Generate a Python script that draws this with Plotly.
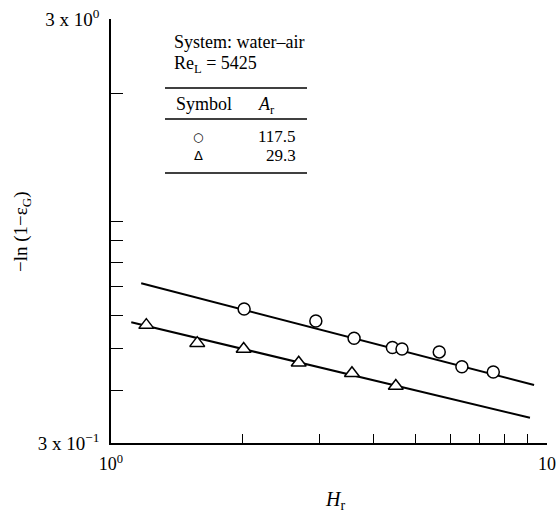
import plotly.graph_objects as go

# Data: A_r = 117.5 (circles)
hr_circle = [2.02, 2.95, 3.61, 4.42, 4.65, 5.66, 6.38, 7.53]
eps_circle = [0.621, 0.582, 0.530, 0.504, 0.500, 0.492, 0.454, 0.441]
# Data: A_r = 29.3 (triangles)
hr_tri = [1.205, 1.577, 2.015, 2.695, 3.57, 4.50]
eps_tri = [0.569, 0.516, 0.500, 0.464, 0.438, 0.409]
# Fitted lines (endpoints)
fit_circle_x = [1.173, 9.34]
fit_circle_y = [0.714, 0.411]
fit_tri_x = [1.113, 9.14]
fit_tri_y = [0.578, 0.344]

x_tickvals = [1, 2, 3, 4, 5, 6, 7, 8, 9, 10]
x_ticktext = ["10<sup>0</sup>", "", "", "", "", "", "", "", "", "10"]
y_tickvals = [0.3, 0.4, 0.5, 0.6, 0.7, 0.8, 0.9, 1.0, 2.0, 3.0]
y_ticktext = ["3 x 10<sup>\u22121</sup>", "", "", "", "", "", "", "", "", "3 x 10<sup>0</sup>"]

FONT = "Liberation Serif"
W, H = 557, 517
L, R, T, B = 111, 10, 19, 74
PW, PH = W - L - R, H - T - B


def px(x):
    return (x - L) / PW


def py(y):
    return (H - B - y) / PH


fig = go.Figure()
fig.add_trace(go.Scatter(x=fit_circle_x, y=fit_circle_y, mode="lines",
                         line=dict(color="black", width=2), showlegend=False))
fig.add_trace(go.Scatter(x=fit_tri_x, y=fit_tri_y, mode="lines",
                         line=dict(color="black", width=2), showlegend=False))
fig.add_trace(go.Scatter(x=hr_circle, y=eps_circle, mode="markers",
                         marker=dict(symbol="circle", size=12, color="white",
                                     line=dict(color="black", width=1.5)),
                         showlegend=False))
fig.add_trace(go.Scatter(x=hr_tri, y=eps_tri, mode="markers",
                         marker=dict(symbol="triangle-up", size=13, color="white",
                                     line=dict(color="black", width=1.5)),
                         showlegend=False))

fig.update_xaxes(type="log", range=[0, 1], tickvals=x_tickvals, ticktext=x_ticktext,
                 ticks="inside", ticklen=9, tickwidth=1.2, tickcolor="black",
                 showline=True, linecolor="black", linewidth=1.5, showgrid=False,
                 zeroline=False, automargin=False, ticklabelstandoff=4,
                 tickfont=dict(family=FONT, size=18, color="black"))
fig.update_yaxes(type="log", range=[-0.5229, 0.4771], tickvals=y_tickvals, ticktext=y_ticktext,
                 ticks="inside", ticklen=12, tickwidth=1.2, tickcolor="black",
                 showline=True, linecolor="black", linewidth=1.5, showgrid=False,
                 zeroline=False, automargin=False, ticklabelstandoff=6,
                 tickfont=dict(family=FONT, size=19, color="black"))

annotations = [
    dict(x=px(22), y=py(232), text="\u2212ln (1\u2212\u03b5<sub>G</sub>)", textangle=-90,
         xanchor="center", font=dict(family=FONT, size=19, color="black")),
    dict(x=px(335), y=py(500), text="<i>H</i><sub>r</sub>",
         xanchor="center", font=dict(family=FONT, size=20, color="black")),
    dict(x=px(172), y=py(42), text="System: water\u2013air", xanchor="left",
         font=dict(family=FONT, size=18, color="black")),
    dict(x=px(172), y=py(64), text="Re<sub>L</sub> = 5425", xanchor="left",
         font=dict(family=FONT, size=18, color="black")),
    dict(x=px(174), y=py(104), text="Symbol", xanchor="left",
         font=dict(family=FONT, size=18, color="black")),
    dict(x=px(266), y=py(105), text="<i>A</i><sub>r</sub>", xanchor="center",
         font=dict(family=FONT, size=18, color="black")),
    dict(x=px(198), y=py(136.5), text="\u25cb", xanchor="center",
         font=dict(family="DejaVu Sans", size=12, color="black")),
    dict(x=px(298), y=py(136.5), text="117.5", xanchor="right",
         font=dict(family=FONT, size=17, color="black")),
    dict(x=px(198), y=py(155.5), text="\u0394", xanchor="center",
         font=dict(family="DejaVu Sans", size=13, color="black")),
    dict(x=px(298), y=py(155.5), text="29.3", xanchor="right",
         font=dict(family=FONT, size=17, color="black")),
]
for a in annotations:
    a.update(xref="paper", yref="paper", yanchor="middle", showarrow=False)

shapes = []
for yy in (88, 119, 173):
    shapes.append(dict(type="line", xref="paper", yref="paper",
                       x0=px(165), x1=px(307), y0=py(yy), y1=py(yy),
                       line=dict(color="black", width=1.5)))

fig.update_layout(width=W, height=H, margin=dict(l=L, r=R, t=T, b=B, autoexpand=False),
                  paper_bgcolor="white", plot_bgcolor="white",
                  annotations=annotations, shapes=shapes, showlegend=False)

fig.write_html("out.html")
